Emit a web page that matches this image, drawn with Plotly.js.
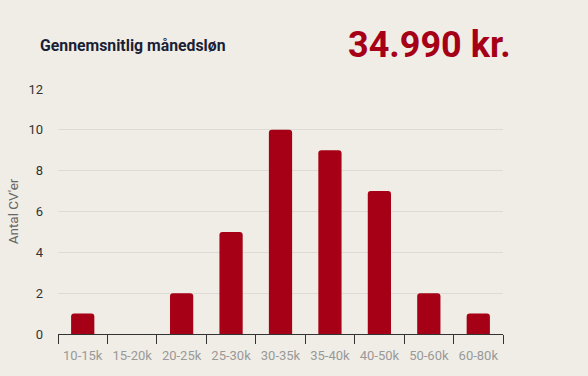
<!DOCTYPE html>
<html><head><meta charset="utf-8">
<script src="https://cdn.plot.ly/plotly-3.0.1.min.js"></script>
<style>html,body{margin:0;padding:0;background:#f0ede6;}#c{width:588px;height:376px;}</style>
</head><body><div id="c"></div>
<script>
const categories = ["10-15k","15-20k","20-25k","25-30k","30-35k","35-40k","40-50k","50-60k","60-80k"];
const counts = [1,0,2,5,10,9,7,2,1];
const yTicks = [0,2,4,6,8,10,12];
const titleText = "Gennemsnitlig månedsløn";
const bigValue = "34.990 kr.";
const yTitle = "Antal CV'er";

Plotly.newPlot("c", [{
  type: "bar", x: categories, y: counts,
  marker: {color: "#a50016"}, hoverinfo: "none"
}], {
  width: 588, height: 376,
  paper_bgcolor: "#f0ede6", plot_bgcolor: "#f0ede6",
  margin: {l: 58, r: 85, t: 89, b: 42},
  bargap: 0.53, barcornerradius: 3,
  font: {family: "Roboto, sans-serif"},
  showlegend: false,
  xaxis: {
    type: "category", tickson: "boundaries", ticks: "outside", ticklen: 9,
    tickcolor: "#333", showline: true, linecolor: "#333", linewidth: 1,
    showgrid: false, tickangle: 0, ticklabelstandoff: 9,
    tickfont: {size: 13, color: "#999"}, fixedrange: true
  },
  yaxis: {
    range: [0, 12], tickvals: yTicks, showgrid: true, gridcolor: "#dedbd6",
    zeroline: false, showline: false, ticks: "", ticklabelstandoff: 14,
    tickfont: {size: 13, color: "#333"},
    title: {text: yTitle, font: {size: 13.5, color: "#666"}, standoff: 6},
    fixedrange: true
  },
  annotations: [
    {xref: "paper", yref: "paper", x: -0.045, y: 1.176, xanchor: "left", yanchor: "middle",
     text: "<b>" + titleText + "</b>", showarrow: false, font: {size: 15.8, color: "#1a1f36"}},
    {xref: "paper", yref: "paper", x: 1.022, y: 1.18, xanchor: "right", yanchor: "middle",
     text: "<b>" + bigValue + "</b>", showarrow: false, font: {size: 36, color: "#a50016"}}
  ]
}, {displayModeBar: false, staticPlot: true});
</script></body></html>
